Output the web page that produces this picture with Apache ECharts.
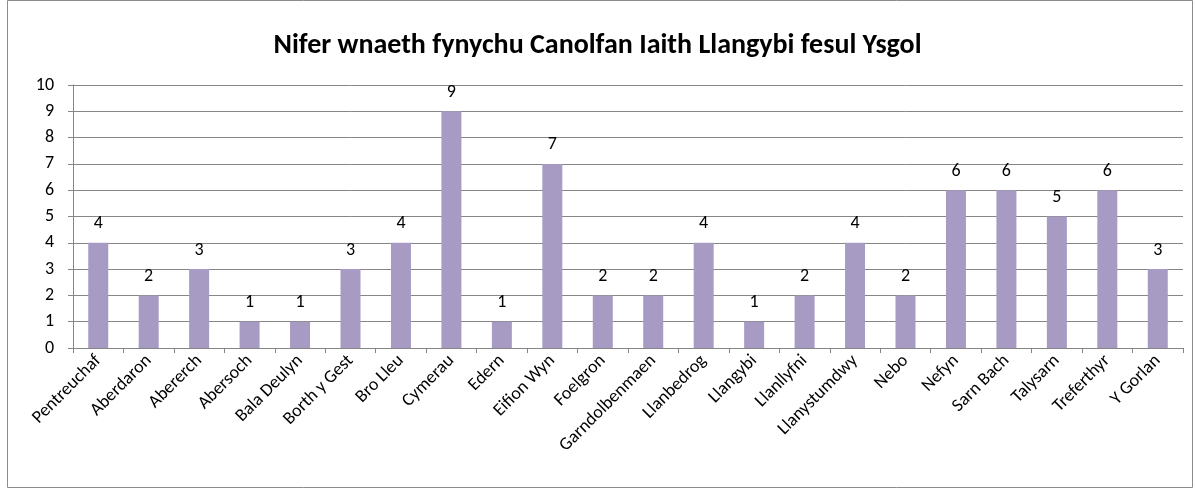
<!DOCTYPE html>
<html>
<head>
<meta charset="utf-8">
<style>
  html, body { margin: 0; padding: 0; background: #fff; }
  #chart-container { width: 1195px; height: 489px; }
</style>
<script src="https://cdn.jsdelivr.net/npm/echarts@6/dist/echarts.min.js"></script>
</head>
<body>
<div id="chart-container"></div>
<script>
// Ysgolion a'r niferoedd
const ysgolion = ['Pentreuchaf', 'Aberdaron', 'Abererch', 'Abersoch', 'Bala Deulyn', 'Borth y Gest',
  'Bro Lleu', 'Cymerau', 'Edern', 'Eifion Wyn', 'Foelgron', 'Garndolbenmaen', 'Llanbedrog',
  'Llangybi', 'Llanllyfni', 'Llanystumdwy', 'Nebo', 'Nefyn', 'Sarn Bach', 'Talysarn',
  'Treferthyr', 'Y Gorlan'];
const niferoedd = [4, 2, 3, 1, 1, 3, 4, 9, 1, 7, 2, 2, 4, 1, 2, 4, 2, 6, 6, 5, 6, 3];
const teitl = 'Nifer wnaeth fynychu Canolfan Iaith Llangybi fesul Ysgol';

let myChart = echarts.init(document.getElementById('chart-container'), null, { renderer: 'canvas' });

const ffont = 'Carlito, "Liberation Sans", "Noto Sans", sans-serif';

const opciones = {
  animation: false,
  textStyle: { fontFamily: ffont },
  title: {
    text: teitl,
    left: 'center',
    top: 27,
    textStyle: { fontSize: 28, fontWeight: 'bold', color: '#000', fontFamily: ffont }
  },
  graphic: [{
    type: 'rect',
    shape: { x: 7.5, y: 0.5, width: 1185, height: 487 },
    style: { fill: 'none', stroke: '#8c8c8c', lineWidth: 1 }
  }],
  grid: { left: 73, right: 12, top: 85, bottom: 141 },
  xAxis: {
    type: 'category',
    data: ysgolion,
    axisLine: { lineStyle: { color: '#868686' } },
    axisTick: { show: true, length: 5, lineStyle: { color: '#868686' } },
    axisLabel: { rotate: 45, color: '#000', fontSize: 18, margin: 10, interval: 0, fontFamily: ffont }
  },
  yAxis: {
    type: 'value',
    min: 0,
    max: 10,
    interval: 1,
    axisLine: { show: true, lineStyle: { color: '#868686' } },
    axisTick: { show: true, length: 5, lineStyle: { color: '#868686' } },
    axisLabel: { color: '#000', fontSize: 18, margin: 19, fontFamily: ffont },
    splitLine: { lineStyle: { color: '#868686' } }
  },
  series: [{
    type: 'bar',
    data: niferoedd,
    barWidth: 20,
    itemStyle: { color: '#A79BC3' },
    label: { show: true, position: 'top', color: '#000', fontSize: 18, distance: 10, fontFamily: ffont }
  }]
};

myChart.setOption(opciones);
window.addEventListener('resize', myChart.resize);
</script>
</body>
</html>
